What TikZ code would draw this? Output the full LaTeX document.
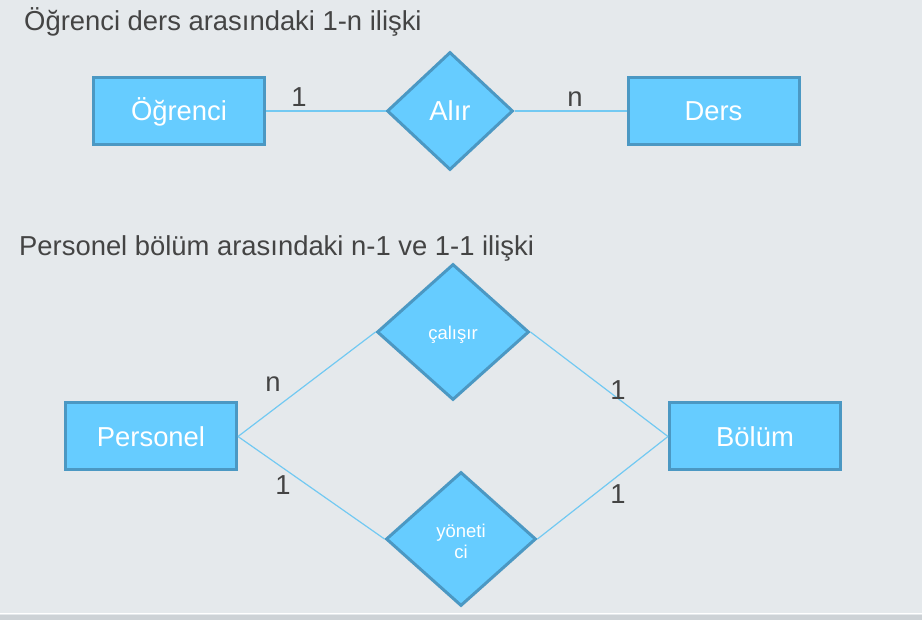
\documentclass[tikz,border=0pt]{standalone}
\usepackage{fontspec}
\setmainfont{Liberation Sans}
\usepackage{xcolor}
\usetikzlibrary{shapes.geometric}

\definecolor{slide}{HTML}{E5E9EC}
\definecolor{slideedge}{HTML}{CDD2D6}
\definecolor{entityfill}{HTML}{66CCFF}
\definecolor{entityborder}{HTML}{4B98C3}
\definecolor{linkline}{HTML}{72C9F2}
\definecolor{darktext}{HTML}{444444}

\begin{document}
\begin{tikzpicture}[x=1pt, y=-1pt,
    entity/.style={draw=entityborder, line width=3pt, fill=entityfill, rectangle, minimum width=171pt, minimum height=67pt, inner sep=0pt, text height=19.7pt, text depth=0pt, text=white, font=\fontsize{27.4}{32}\selectfont},
    relation/.style={draw=entityborder, line width=3pt, fill=entityfill, diamond, inner sep=0pt, text=white},
    card/.style={inner sep=0pt, text=darktext, font=\fontsize{27.4}{32}\selectfont},
    heading/.style={inner sep=0pt, anchor=base west, text=darktext, font=\fontsize{27.4}{32}\selectfont},
    link/.style={draw=linkline, line width=1.2pt}]
    % Background
    \useasboundingbox (0,0) rectangle (922,620);
    \fill[slide] (0,0) rectangle (922,620);
    \fill[slideedge] (0,615) rectangle (922,620);
    \draw[white, line width=1pt] (0,613.5) -- (922,613.5);

    % Headings
    \node[heading] (title1) at (24,31) {Öğrenci ders arasındaki 1-n ilişki};
    \node[heading] (title2) at (19,256) {Personel bölüm arasındaki n-1 ve 1-1 ilişki};

    % Top diagram
    \node[entity] (ogrenci) at (179,111) {Öğrenci};
    \node[relation, minimum width=126pt, minimum height=118pt, text height=19.7pt, text depth=0pt, font=\fontsize{27.4}{32}\selectfont] (alir) at (450,111) {Alır};
    \node[entity] (ders) at (713.5,111) {Ders};

    % Bottom diagram
    \node[entity] (personel) at (151,436.5) {Personel};
    \node[entity] (bolum) at (755,436.5) {Bölüm};
    \node[relation, minimum width=152pt, minimum height=136pt, font=\fontsize{18.5}{21}\selectfont] (calisir) at (453,332) {\raisebox{-8pt}[0pt][0pt]{çalışır}};
    \node[relation, minimum width=150pt, minimum height=134pt, font=\fontsize{18.5}{21}\selectfont] (yonetici) at (461,539) {\raisebox{-9pt}[0pt][0pt]{\begin{tabular}{@{}c@{}}yöneti\\ci\end{tabular}}};

    % Connections
    \draw[link] (ogrenci.east) -- (alir.west);
    \draw[link] (alir.east) -- (ders.west);
    \draw[link] (personel.east) -- (calisir.west);
    \draw[link] (personel.east) -- (yonetici.west);
    \draw[link] (calisir.east) -- (bolum.west);
    \draw[link] (yonetici.east) -- (bolum.west);

    % Cardinalities
    \node[card] (c1) at (299,97) {1};
    \node[card] (c2) at (575,99) {n};
    \node[card] (c3) at (273,384) {n};
    \node[card] (c4) at (283,485) {1};
    \node[card] (c5) at (618,390) {1};
    \node[card] (c6) at (618,494) {1};
\end{tikzpicture}
\end{document}
